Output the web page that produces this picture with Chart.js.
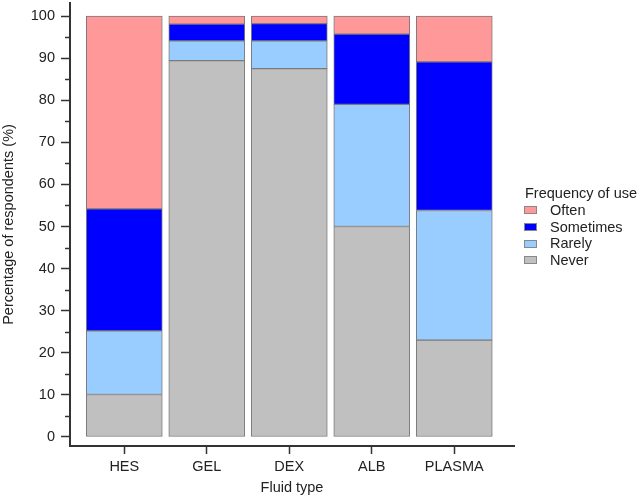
<!DOCTYPE html>
<html>
<head>
<meta charset="utf-8">
<script src="https://cdn.jsdelivr.net/npm/chart.js@4.4.1/dist/chart.umd.min.js"></script>
<style>
  body { margin: 0; background: #fff; }
  #wrap { position: relative; width: 641px; height: 499px; }
  #legend { position: absolute; left: 524px; top: 184px; font: 14.5px "Liberation Sans", Arial, sans-serif; color: #222; }
  #legend .title { height: 18px; line-height: 18px; margin-left: 1px; }
  #legend .row { height: 16.7px; line-height: 16.7px; display: flex; align-items: center; }
  #legend .sw { width: 13px; height: 8px; border: 1px solid #888; box-sizing: border-box; margin-right: 13px; }
</style>
</head>
<body>
<div id="wrap">
  <canvas id="chart" width="641" height="499"></canvas>
  <div id="legend"></div>
</div>
<script>
// categories and stacked percentages (bottom to top)
const categories = ['HES', 'GEL', 'DEX', 'ALB', 'PLASMA'];
const never     = [10.1, 89.4, 87.5, 50.0, 23.0];
const rarely    = [15.1, 4.7, 6.6, 29.0, 30.8];
const sometimes = [29.0, 4.0, 4.1, 16.7, 35.3];
const often     = [45.8, 1.9, 1.8, 4.3, 10.9];
const yTicks = [0, 10, 20, 30, 40, 50, 60, 70, 80, 90, 100];
const yMinorTicks = [5, 15, 25, 35, 45, 55, 65, 75, 85, 95];

const seriesNames = ['Never', 'Rarely', 'Sometimes', 'Often'];
const seriesData = [never, rarely, sometimes, often];
const seriesColors = ['#c0c0c0', '#99ccff', '#0000ff', '#ff9999'];

const font = { family: '"Liberation Sans", Arial, sans-serif', size: 14.5 };
const axisColor = '#333';

// small minor ticks on the y axis
const minorTicks = {
  id: 'minorTicks',
  afterDraw(chart) {
    const y = chart.scales.y;
    const ctx = chart.ctx;
    ctx.save();
    ctx.strokeStyle = axisColor;
    ctx.lineWidth = 1.5;
    yMinorTicks.forEach(v => {
      const py = Math.round(y.getPixelForValue(v)) + 0.5;
      ctx.beginPath();
      ctx.moveTo(y.right - 5, py);
      ctx.lineTo(y.right, py);
      ctx.stroke();
    });
    ctx.restore();
  }
};

new Chart(document.getElementById('chart'), {
  type: 'bar',
  data: {
    datasets: seriesNames.map((name, k) => ({
      label: name,
      data: categories.map((c, i) => ({ x: i, y: seriesData[k][i] })),
      backgroundColor: seriesColors[k],
      borderColor: '#7a7a7a',
      borderWidth: 1,
      borderSkipped: false,
      barThickness: 76
    }))
  },
  options: {
    responsive: false,
    animation: false,
    layout: { padding: { top: 3, right: 127, left: 0, bottom: 0 } },
    plugins: { legend: { display: false }, tooltip: { enabled: false } },
    scales: {
      x: {
        type: 'linear',
        stacked: true,
        offset: false,
        min: -0.658,
        max: 4.724,
        afterBuildTicks: s => { s.ticks = categories.map((c, i) => ({ value: i })); },
        afterFit: s => { s.height = 53; s.paddingLeft = 0; s.paddingRight = 0; },
        ticks: {
          callback: v => categories[v],
          font: font,
          color: '#222',
          padding: 4,
          maxRotation: 0
        },
        grid: { offset: false, drawOnChartArea: false, drawTicks: true, tickLength: 8, tickColor: axisColor, tickWidth: 1.5 },
        border: { color: axisColor, width: 2 },
        title: { display: true, text: 'Fluid type', font: font, color: '#222', padding: { top: 0, bottom: 2 } }
      },
      y: {
        stacked: true,
        min: -2.14,
        max: 103.1,
        afterBuildTicks: s => { s.ticks = yTicks.map(v => ({ value: v })); },
        afterFit: s => { s.width = 70; s.paddingTop = 0; s.paddingBottom = 0; },
        ticks: { font: font, color: '#222', padding: 6 },
        grid: { drawOnChartArea: false, drawTicks: true, tickLength: 9, tickColor: axisColor, tickWidth: 1.5 },
        border: { color: axisColor, width: 2 },
        title: { display: true, text: 'Percentage of respondents (%)', font: font, color: '#222', padding: { top: 0, bottom: 0 } }
      }
    }
  },
  plugins: [minorTicks]
});

// legend, top entry first
const legend = document.getElementById('legend');
legend.innerHTML = '<div class="title">Frequency of use</div>' +
  seriesNames.map((n, k) => ({ n, c: seriesColors[k] })).reverse()
    .map(d => `<div class="row"><span class="sw" style="background:${d.c}"></span>${d.n}</div>`).join('');
</script>
</body>
</html>
